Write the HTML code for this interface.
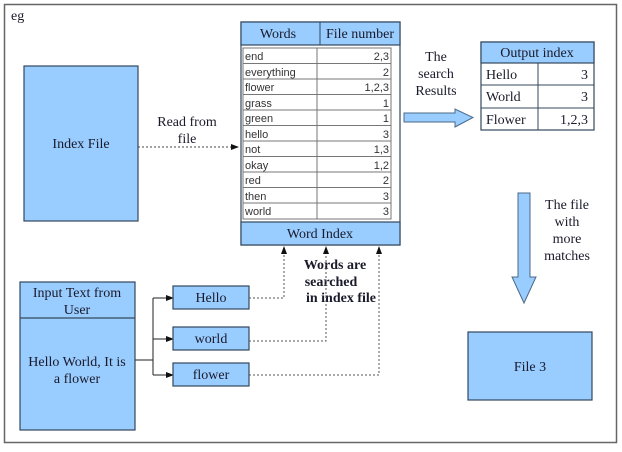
<!DOCTYPE html>
<html><head><meta charset="utf-8"><style>
body{margin:0;background:#fff}
svg text{font-family:"Liberation Serif",serif;fill:#1a1a2a}
.s{font-family:"Liberation Sans",sans-serif;font-size:11px;fill:#333}
</style></head><body>
<svg width="622" height="447" viewBox="0 0 622 447" xmlns="http://www.w3.org/2000/svg">
<defs><marker id="a" markerWidth="8" markerHeight="8" refX="7" refY="4" orient="auto" markerUnits="userSpaceOnUse"><path d="M0,1 L8,4 L0,7z" fill="#111"/></marker></defs>
<rect x="4.5" y="4.5" width="612" height="438" fill="#fff" stroke="#666" stroke-width="1.5"/>
<text x="11" y="20" font-size="14">eg</text>
<!-- Index file -->
<rect x="24" y="66" width="114" height="155" fill="#99ccff" stroke="#34485c" stroke-width="1.2"/>
<text x="81" y="148" font-size="14" text-anchor="middle">Index File</text>
<line x1="138" y1="147" x2="238" y2="147" stroke="#444" stroke-dasharray="2,2" marker-end="url(#a)"/>
<text x="187" y="126" font-size="14" text-anchor="middle">Read from</text>
<text x="187" y="143" font-size="14" text-anchor="middle">file</text>
<!-- table -->
<rect x="241" y="22" width="159" height="223" fill="#fff" stroke="#34485c" stroke-width="1.2"/>
<rect x="241" y="22" width="159" height="23" fill="#99ccff" stroke="#34485c" stroke-width="1.2"/>
<line x1="320" y1="22" x2="320" y2="45" stroke="#34485c"/>
<text x="278" y="38" font-size="14" text-anchor="middle">Words</text>
<text x="360" y="38" font-size="14" text-anchor="middle">File number</text>
<rect x="243" y="48" width="148" height="171" fill="#fff" stroke="#777"/>
<line x1="317" y1="48" x2="317" y2="219" stroke="#777"/>
<g stroke="#777">
<line x1="243" y1="63.5" x2="391" y2="63.5"/><line x1="243" y1="79" x2="391" y2="79"/><line x1="243" y1="94.5" x2="391" y2="94.5"/><line x1="243" y1="110" x2="391" y2="110"/><line x1="243" y1="125.5" x2="391" y2="125.5"/><line x1="243" y1="141" x2="391" y2="141"/><line x1="243" y1="156.5" x2="391" y2="156.5"/><line x1="243" y1="172" x2="391" y2="172"/><line x1="243" y1="187.5" x2="391" y2="187.5"/><line x1="243" y1="203" x2="391" y2="203"/>
</g>
<g class="s">
<text class="s" x="245" y="60">end</text><text class="s" x="389" y="60" text-anchor="end">2,3</text>
<text class="s" x="245" y="76">everything</text><text class="s" x="389" y="76" text-anchor="end">2</text>
<text class="s" x="245" y="91">flower</text><text class="s" x="389" y="91" text-anchor="end">1,2,3</text>
<text class="s" x="245" y="107">grass</text><text class="s" x="389" y="107" text-anchor="end">1</text>
<text class="s" x="245" y="122">green</text><text class="s" x="389" y="122" text-anchor="end">1</text>
<text class="s" x="245" y="138">hello</text><text class="s" x="389" y="138" text-anchor="end">3</text>
<text class="s" x="245" y="153">not</text><text class="s" x="389" y="153" text-anchor="end">1,3</text>
<text class="s" x="245" y="169">okay</text><text class="s" x="389" y="169" text-anchor="end">1,2</text>
<text class="s" x="245" y="184">red</text><text class="s" x="389" y="184" text-anchor="end">2</text>
<text class="s" x="245" y="200">then</text><text class="s" x="389" y="200" text-anchor="end">3</text>
<text class="s" x="245" y="215">world</text><text class="s" x="389" y="215" text-anchor="end">3</text>
</g>
<rect x="241" y="222" width="159" height="23" fill="#99ccff" stroke="#34485c" stroke-width="1.2"/>
<text x="320" y="238" font-size="14" text-anchor="middle">Word Index</text>
<!-- search results -->
<text x="436" y="61" font-size="14" text-anchor="middle">The</text>
<text x="436" y="78" font-size="14" text-anchor="middle">search</text>
<text x="436" y="95" font-size="14" text-anchor="middle">Results</text>
<path d="M404,113 L455,113 L455,109 L473,117.5 L455,127 L455,122 L404,122z" fill="#99ccff" stroke="#4a6a8a"/>
<!-- output index -->
<rect x="481" y="42" width="113" height="88" fill="#fff" stroke="#34485c" stroke-width="1.2"/>
<rect x="481" y="42" width="113" height="21" fill="#99ccff" stroke="#34485c" stroke-width="1.2"/>
<line x1="481" y1="85" x2="594" y2="85" stroke="#34485c"/><line x1="481" y1="108" x2="594" y2="108" stroke="#34485c"/>
<line x1="538" y1="63" x2="538" y2="130" stroke="#34485c"/>
<text x="537" y="57" font-size="14" text-anchor="middle">Output index</text>
<text x="486" y="79" font-size="14">Hello</text><text x="588" y="79" font-size="14" text-anchor="end">3</text>
<text x="486" y="101" font-size="14">World</text><text x="588" y="101" font-size="14" text-anchor="end">3</text>
<text x="486" y="124" font-size="14">Flower</text><text x="588" y="124" font-size="14" text-anchor="end">1,2,3</text>
<!-- down arrow -->
<path d="M518,193 L530,193 L530,277 L536,277 L524,303 L512,277 L518,277z" fill="#99ccff" stroke="#4a6a8a"/>
<text x="567" y="209" font-size="14" text-anchor="middle">The file</text>
<text x="567" y="226" font-size="14" text-anchor="middle">with</text>
<text x="567" y="243" font-size="14" text-anchor="middle">more</text>
<text x="567" y="260" font-size="14" text-anchor="middle">matches</text>
<rect x="468" y="332" width="124" height="68" fill="#99ccff" stroke="#34485c" stroke-width="1.2"/>
<text x="530" y="371" font-size="14" text-anchor="middle">File 3</text>
<!-- words searched -->
<text x="335" y="269" font-size="14" font-weight="bold" text-anchor="middle">Words are</text>
<text x="331" y="286" font-size="14" font-weight="bold" text-anchor="middle">searched</text>
<text x="341" y="302" font-size="14" font-weight="bold" text-anchor="middle">in index file</text>
<!-- input -->
<rect x="20" y="282" width="115" height="148" fill="#99ccff" stroke="#34485c" stroke-width="1.2"/>
<line x1="20" y1="318" x2="135" y2="318" stroke="#34485c" stroke-width="1.2"/>
<text x="77" y="297" font-size="14" text-anchor="middle">Input Text from</text>
<text x="77" y="314" font-size="14" text-anchor="middle">User</text>
<text x="77" y="366" font-size="14" text-anchor="middle">Hello World, It is</text>
<text x="77" y="383" font-size="14" text-anchor="middle">a flower</text>
<g stroke="#222" fill="none">
<line x1="135" y1="360" x2="153" y2="360"/>
<line x1="153" y1="298" x2="153" y2="375"/>
<line x1="153" y1="298" x2="173" y2="298" marker-end="url(#a)"/>
<line x1="153" y1="339" x2="173" y2="339" marker-end="url(#a)"/>
<line x1="153" y1="375" x2="173" y2="375" marker-end="url(#a)"/>
</g>
<rect x="173" y="286" width="76" height="23" fill="#99ccff" stroke="#34485c" stroke-width="1.2"/>
<text x="211" y="302" font-size="14" text-anchor="middle">Hello</text>
<rect x="173" y="327" width="76" height="23" fill="#99ccff" stroke="#34485c" stroke-width="1.2"/>
<text x="211" y="343" font-size="14" text-anchor="middle">world</text>
<rect x="173" y="363" width="76" height="23" fill="#99ccff" stroke="#34485c" stroke-width="1.2"/>
<text x="211" y="379" font-size="14" text-anchor="middle">flower</text>
<g stroke="#555" fill="none" stroke-dasharray="2,2">
<polyline points="249,298 284,298 284,247" marker-end="url(#a)"/>
<polyline points="249,341 326,341 326,247" marker-end="url(#a)"/>
<polyline points="249,375 379,375 379,247" marker-end="url(#a)"/>
</g>
</svg>
</body></html>
